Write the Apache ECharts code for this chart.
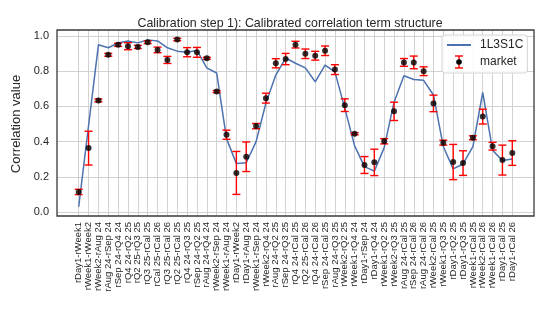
<!DOCTYPE html>
<html>
<head>
<meta charset="utf-8">
<script src="https://cdn.jsdelivr.net/npm/echarts@6/dist/echarts.min.js"></script>
<style>
html,body{margin:0;padding:0;background:#fff;}
#chart{width:548px;height:313px;}
</style>
</head>
<body>
<div id="chart"></div>
<script>
const categories = [
  'rDay1-rWeek1','rWeek1-rWeek2','rWeek2-rAug 24','rAug 24-rSep 24','rSep 24-rQ4 24',
  'rQ4 24-rQ2 25','rQ2 25-rQ3 25','rQ3 25-rCal 25','rCal 25-rCal 26','rQ3 25-rCal 26',
  'rQ2 25-rCal 25','rQ4 24-rQ3 25','rSep 24-rQ2 25','rAug 24-rQ4 24','rWeek2-rSep 24',
  'rWeek1-rAug 24','rDay1-rWeek2','rDay1-rAug 24','rWeek1-rSep 24','rWeek2-rQ4 24',
  'rAug 24-rQ2 25','rSep 24-rQ3 25','rQ4 24-rCal 25','rQ2 25-rCal 26','rQ4 24-rCal 26',
  'rSep 24-rCal 25','rAug 24-rQ3 25','rWeek2-rQ2 25','rWeek1-rQ4 24','rDay1-rSep 24',
  'rDay1-rQ4 24','rWeek1-rQ2 25','rWeek2-rQ3 25','rAug 24-rCal 25','rSep 24-rCal 26',
  'rAug 24-rCal 26','rWeek2-rCal 25','rWeek1-rQ3 25','rDay1-rQ2 25','rDay1-rQ3 25',
  'rWeek1-rCal 25','rWeek2-rCal 26','rWeek1-rCal 26','rDay1-rCal 25','rDay1-rCal 26'
];
const modelValues = [
  0.03,0.49,0.95,0.933,0.96,0.972,0.961,0.978,0.972,0.933,
  0.914,0.908,0.918,0.819,0.79,0.417,0.275,0.28,0.40,0.619,
  0.778,0.875,0.845,0.819,0.74,0.834,0.796,0.59,0.376,0.258,
  0.232,0.366,0.624,0.774,0.753,0.748,0.665,0.372,0.245,0.273,
  0.372,0.679,0.351,0.292,0.301
];
const marketValues = [
  0.114,0.363,0.634,0.893,0.95,0.942,0.938,0.965,0.921,0.864,
  0.98,0.908,0.907,0.873,0.684,0.439,0.222,0.314,0.488,0.647,
  0.845,0.869,0.951,0.899,0.888,0.916,0.809,0.607,0.445,0.267,
  0.282,0.402,0.572,0.85,0.85,0.80,0.617,0.394,0.284,0.278,
  0.422,0.542,0.374,0.295,0.335
];
const marketErrors = [
  0.015,0.096,0.008,0.008,0.009,0.02,0.009,0.008,0.016,0.02,
  0.007,0.026,0.028,0.006,0.006,0.026,0.122,0.084,0.015,0.028,
  0.026,0.032,0.019,0.027,0.025,0.027,0.028,0.036,0.006,0.048,
  0.075,0.015,0.052,0.022,0.036,0.025,0.047,0.014,0.10,0.07,
  0.011,0.042,0.022,0.085,0.07
];
const yTickMin = 0, yTickMax = 1, yTickStep = 0.2;

const FONT = 'Liberation Sans, Arial, sans-serif';
const TXT = '#262626';
const marketIcon = 'image://data:image/svg+xml;utf8,' + encodeURIComponent(
  '<svg xmlns="http://www.w3.org/2000/svg" width="24" height="14" viewBox="0 0 24 14">' +
  '<line x1="12" y1="1" x2="12" y2="13" stroke="#ff0000" stroke-width="1.4"/>' +
  '<line x1="8" y1="1" x2="16" y2="1" stroke="#ff0000" stroke-width="1.4"/>' +
  '<line x1="8" y1="13" x2="16" y2="13" stroke="#ff0000" stroke-width="1.4"/>' +
  '<circle cx="12" cy="7" r="2.8" fill="#000"/></svg>');

const chart = echarts.init(document.getElementById('chart'), null, {renderer: 'canvas'});
chart.setOption({
  animation: false,
  backgroundColor: '#fff',
  textStyle: {fontFamily: FONT},
  title: {
    text: 'Calibration step 1): Calibrated correlation term structure',
    left: 285, top: 13, textAlign: 'center',
    textStyle: {fontSize: 12.4, fontWeight: 'normal', color: TXT, fontFamily: FONT}
  },
  legend: {
    orient: 'vertical', left: 442, top: 35,
    padding: [4, 4, 4, 5], itemGap: 4, itemWidth: 24, itemHeight: 14,
    backgroundColor: 'rgba(255,255,255,0.85)', borderColor: '#d5d5d5', borderWidth: 1, borderRadius: 3,
    textStyle: {fontSize: 12, color: TXT, fontFamily: FONT, padding: [0, 0, 0, 4]},
    data: [
      {name: '1L3S1C', icon: 'path://M0,6 L24,6 L24,8 L0,8 Z'},
      {name: 'market', icon: marketIcon}
    ]
  },
  grid: [
    {left: 57, top: 30, width: 477, height: 186, show: true, borderColor: '#3a3a3a', borderWidth: 1.3, backgroundColor: 'transparent', z: 5},
    {left: 57, top: 36, width: 477, height: 176, show: false},
    {left: 78.7, top: 30, width: 433.6, height: 186, show: false}
  ],
  xAxis: [
    {gridIndex: 0, type: 'value', show: false, min: 0, max: 1},
    {gridIndex: 1, type: 'value', show: false, min: 0, max: 1},
    {gridIndex: 2, type: 'category', data: categories, boundaryGap: false,
     axisLine: {show: false}, axisTick: {show: false},
     splitLine: {show: true, interval: 0, lineStyle: {color: '#d2d2d2', width: 1}},
     axisLabel: {interval: 0, rotate: 90, fontSize: 9.5, color: TXT, margin: 6, fontFamily: FONT}}
  ],
  yAxis: [
    {gridIndex: 0, type: 'value', show: false, min: 0, max: 1},
    {gridIndex: 1, type: 'value', min: yTickMin, max: yTickMax, interval: yTickStep,
     axisLine: {show: false}, axisTick: {show: false},
     splitLine: {show: true, lineStyle: {color: '#d2d2d2', width: 1}},
     axisLabel: {fontSize: 11, color: TXT, margin: 8, fontFamily: FONT, formatter: v => v.toFixed(1)},
     name: 'Correlation value', nameLocation: 'middle', nameGap: 27,
     nameTextStyle: {fontSize: 13, color: TXT, fontFamily: FONT}},
    {gridIndex: 2, type: 'value', show: false, min: -0.0227, max: 1.0341}
  ],
  series: [
    {
      name: '1L3S1C', type: 'line', xAxisIndex: 2, yAxisIndex: 2,
      data: modelValues, symbol: 'none', z: 3,
      lineStyle: {color: '#4c72b0', width: 1.5}, itemStyle: {color: '#4c72b0'}
    },
    {
      name: 'market', type: 'custom', xAxisIndex: 2, yAxisIndex: 2, z: 4,
      itemStyle: {color: '#ff0000'},
      encode: {x: 0, y: [1, 2]},
      data: marketValues.map((v, i) => [i, v - marketErrors[i], v + marketErrors[i]]),
      renderItem: function (params, api) {
        const x = api.value(0);
        const pLo = api.coord([x, api.value(1)]);
        const pHi = api.coord([x, api.value(2)]);
        const hw = 4;
        const st = {stroke: '#ff0000', lineWidth: 1.4};
        return {type: 'group', children: [
          {type: 'line', shape: {x1: pHi[0], y1: pHi[1], x2: pLo[0], y2: pLo[1]}, style: st},
          {type: 'line', shape: {x1: pHi[0] - hw, y1: pHi[1], x2: pHi[0] + hw, y2: pHi[1]}, style: st},
          {type: 'line', shape: {x1: pLo[0] - hw, y1: pLo[1], x2: pLo[0] + hw, y2: pLo[1]}, style: st}
        ]};
      }
    },
    {
      name: 'marketDots', type: 'scatter', xAxisIndex: 2, yAxisIndex: 2, z: 5,
      data: marketValues, symbol: 'circle', symbolSize: 6,
      itemStyle: {color: '#000'}
    }
  ]
});
</script>
</body>
</html>
